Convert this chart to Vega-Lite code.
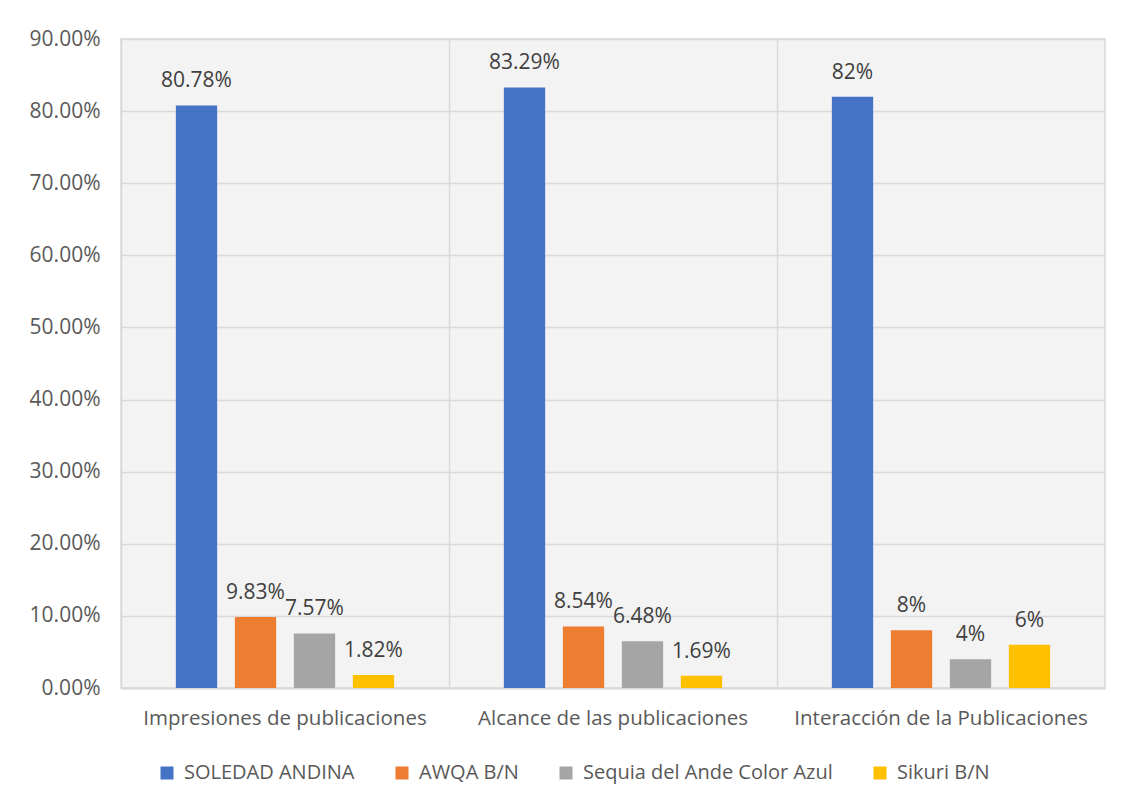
{
  "$schema": "https://vega.github.io/schema/vega-lite/v6.json",
  "width": 984,
  "height": 649,
  "autosize": "none",
  "padding": {"left": 121, "top": 39, "right": 23, "bottom": 117},
  "background": "white",
  "data": {
    "values": [
      {"cat": "Impresiones de publicaciones", "serie": "SOLEDAD ANDINA", "v": 0.8078, "lbl": "80.78%"},
      {"cat": "Impresiones de publicaciones", "serie": "AWQA B/N", "v": 0.0983, "lbl": "9.83%"},
      {"cat": "Impresiones de publicaciones", "serie": "Sequia del Ande Color Azul", "v": 0.0757, "lbl": "7.57%"},
      {"cat": "Impresiones de publicaciones", "serie": "Sikuri B/N", "v": 0.0182, "lbl": "1.82%"},
      {"cat": "Alcance de las publicaciones", "serie": "SOLEDAD ANDINA", "v": 0.8329, "lbl": "83.29%"},
      {"cat": "Alcance de las publicaciones", "serie": "AWQA B/N", "v": 0.0854, "lbl": "8.54%"},
      {"cat": "Alcance de las publicaciones", "serie": "Sequia del Ande Color Azul", "v": 0.0648, "lbl": "6.48%"},
      {"cat": "Alcance de las publicaciones", "serie": "Sikuri B/N", "v": 0.0169, "lbl": "1.69%"},
      {"cat": "Interacción de la Publicaciones", "serie": "SOLEDAD ANDINA", "v": 0.82, "lbl": "82%"},
      {"cat": "Interacción de la Publicaciones", "serie": "AWQA B/N", "v": 0.08, "lbl": "8%"},
      {"cat": "Interacción de la Publicaciones", "serie": "Sequia del Ande Color Azul", "v": 0.04, "lbl": "4%"},
      {"cat": "Interacción de la Publicaciones", "serie": "Sikuri B/N", "v": 0.06, "lbl": "6%"}
    ]
  },
  "encoding": {
    "x": {
      "field": "cat", "type": "nominal", "sort": null, "title": null,
      "scale": {"paddingInner": 0, "paddingOuter": 0},
      "axis": {
        "labelAngle": 0, "labelFont": "Open Sans", "labelFontSize": 20.5, "labelColor": "#595959",
        "labelLimit": 400,
        "ticks": false, "labelPadding": 20, "grid": true, "bandPosition": 0,
        "gridColor": "#d9d9d9", "gridWidth": 1.5, "domainColor": "#d9d9d9", "domainWidth": 2
      }
    },
    "xOffset": {
      "field": "serie", "type": "nominal", "sort": null,
      "scale": {"paddingInner": 0.3, "paddingOuter": 0.93}
    },
    "y": {
      "field": "v", "type": "quantitative", "title": null,
      "scale": {"domain": [0, 0.9], "nice": false},
      "axis": {
        "format": ".2%", "values": [0, 0.1, 0.2, 0.3, 0.4, 0.5, 0.6, 0.7, 0.8, 0.9],
        "labelFont": "Open Sans", "labelFontSize": 21, "labelColor": "#595959",
        "ticks": false, "domain": false, "labelPadding": 21,
        "gridColor": "#d9d9d9", "gridWidth": 1.5
      }
    }
  },
  "layer": [
    {
      "mark": {"type": "bar"},
      "encoding": {
        "color": {
          "field": "serie", "type": "nominal", "sort": null,
          "scale": {
            "domain": ["SOLEDAD ANDINA", "AWQA B/N", "Sequia del Ande Color Azul", "Sikuri B/N"],
            "range": ["#4472C4", "#ED7D31", "#A5A5A5", "#FFC000"]
          },
          "legend": {
            "title": null, "orient": "none", "direction": "horizontal", "columns": 4,
            "legendX": 36, "legendY": 724,
            "symbolType": "square", "symbolSize": 169, "symbolStrokeWidth": 0,
            "labelFont": "Open Sans", "labelFontSize": 20, "labelColor": "#595959",
            "labelOffset": 7, "columnPadding": 37, "labelLimit": 400
          }
        }
      }
    },
    {
      "mark": {"type": "text", "baseline": "alphabetic", "dy": -18, "font": "Open Sans", "fontSize": 21, "color": "#404040"},
      "encoding": {"text": {"field": "lbl"}}
    }
  ],
  "config": {
    "view": {"fill": "#f3f3f3", "stroke": "#d9d9d9", "strokeWidth": 1.5}
  }
}
